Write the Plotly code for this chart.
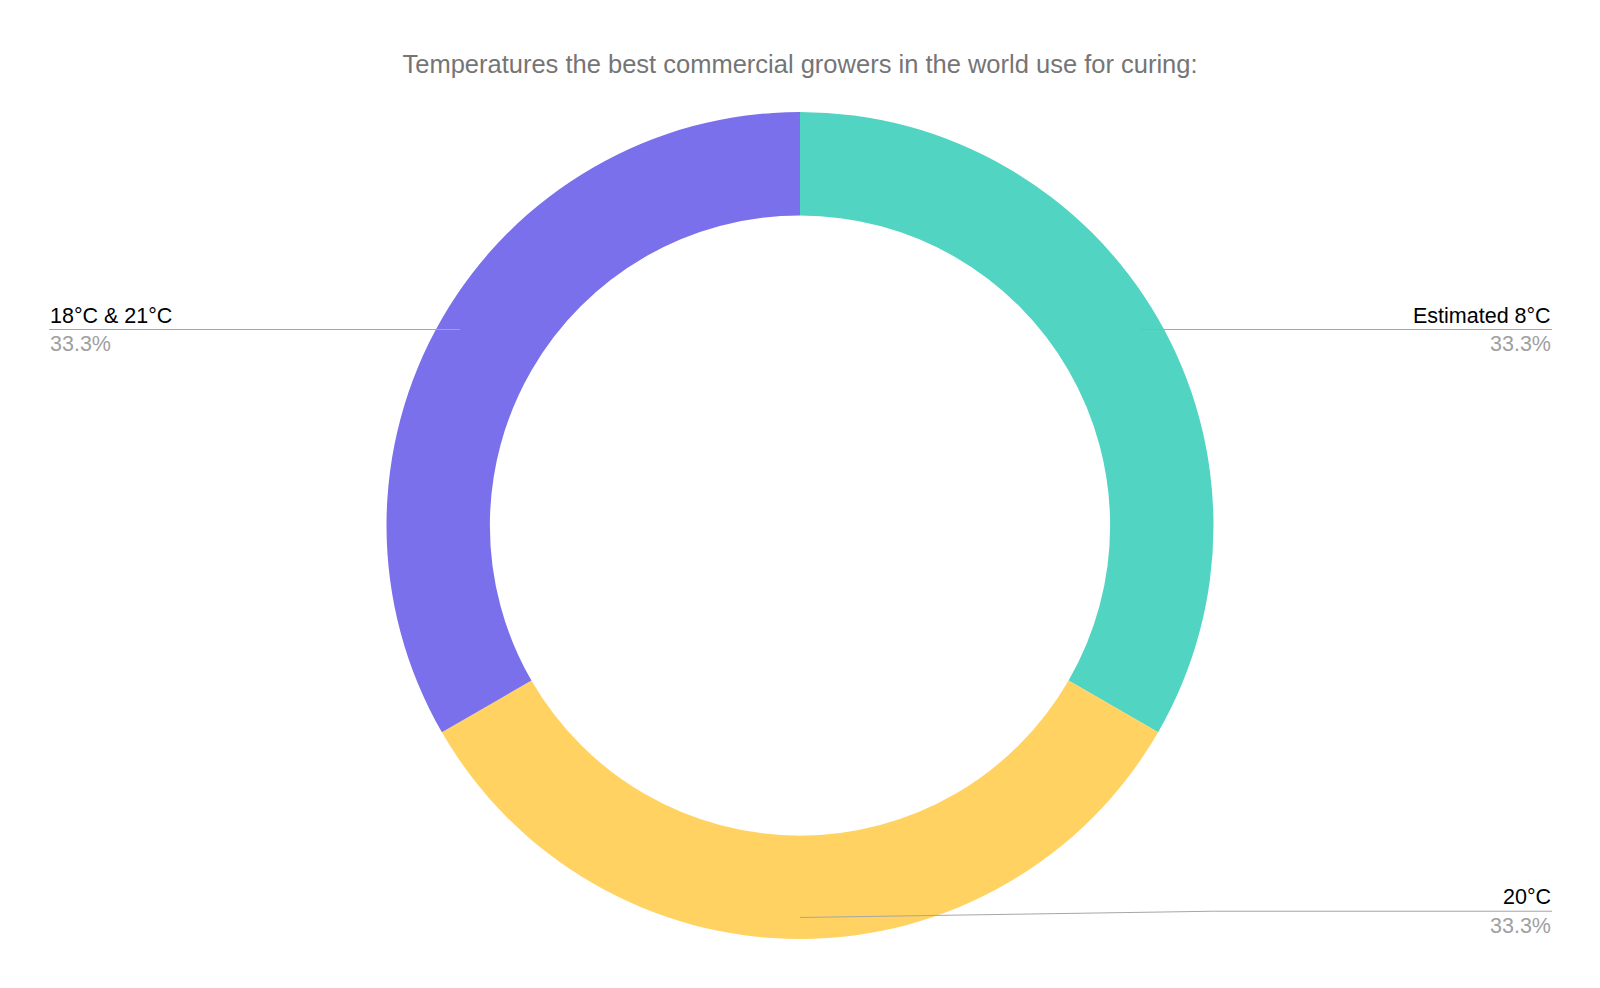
import math
import plotly.graph_objects as go

# ---- data ----
labels = ["Estimated 8°C", "20°C", "18°C & 21°C"]
values = [1, 1, 1]
colors = ["#52d4c2", "#ffd262", "#7b70eb"]
title_text = "Temperatures the best commercial growers in the world use for curing:"

# ---- layout geometry (pixels, figure coords; page body adds an 8px offset) ----
W, H = 1600, 988
OFF = 8
M_T, M_B = 111.5 - OFF, 988 - (939.5 - OFF)
plot_h = H - M_T - M_B
cx_target = 800 - OFF
dom_x = [0.0, 2 * cx_target / W]
cx = W * (dom_x[0] + dom_x[1]) / 2
R = plot_h / 2
cy = M_T + R
hole = 0.75
anchor_r = 0.948 * R
label_y_px = [None, 911.7 - OFF, None]   # y of the label rule per slice (None = level with anchor)
left_x, right_x = 49 - OFF, 1552 - OFF
FONT = "Liberation Sans, Arial, sans-serif"

def px(x):
    return x / W

def py(y):
    return (H - M_B - y) / plot_h

fig = go.Figure(go.Pie(
    labels=labels, values=values, sort=False, direction="clockwise", rotation=0,
    hole=hole, marker=dict(colors=colors, line=dict(width=0)),
    textinfo="none", domain=dict(x=dom_x, y=[0, 1]), showlegend=False,
    hoverinfo="label+percent",
))

total = sum(values)
cum = 0
shapes, annots = [], []
line_col = "#a6a6a6"
for i, (lab, v) in enumerate(zip(labels, values)):
    mid = (cum + v / 2) / total
    cum += v
    th = 2 * math.pi * mid
    ax = cx + anchor_r * math.sin(th)
    ay = cy - anchor_r * math.cos(th)
    ly = label_y_px[i] if label_y_px[i] is not None else ay
    right = ax >= cx - 1
    end_x = right_x if right else left_x
    if abs(ay - ly) > 1:
        kx = ax + (end_x - ax) * 0.55
        path = f"M {px(ax)} {py(ay)} L {px(kx)} {py(ly)} L {px(end_x)} {py(ly)}"
        shapes.append(dict(type="path", xref="paper", yref="paper", path=path,
                           line=dict(color=line_col, width=1)))
    else:
        shapes.append(dict(type="line", xref="paper", yref="paper",
                           x0=px(ax), y0=py(ay), x1=px(end_x), y1=py(ly),
                           line=dict(color=line_col, width=1)))
    pct = f"{100 * v / total:.1f}%"
    anchor = "right" if right else "left"
    annots.append(dict(xref="paper", yref="paper", x=px(end_x), y=py(ly - 14),
                       text=lab, showarrow=False, xanchor=anchor, yanchor="middle",
                       font=dict(size=21.5, color="#000000", family=FONT),
                       borderpad=0))
    annots.append(dict(xref="paper", yref="paper", x=px(end_x), y=py(ly + 14.5),
                       text=pct, showarrow=False, xanchor=anchor, yanchor="middle",
                       font=dict(size=21.5, color="#a0a0a0", family=FONT),
                       borderpad=0))

fig.update_layout(
    width=W, height=H,
    margin=dict(l=0, r=0, t=M_T, b=M_B),
    paper_bgcolor="white", plot_bgcolor="white",
    title=dict(text=title_text, x=cx_target / W, xanchor="center",
               y=1 - (64 - OFF) / H, yanchor="middle",
               font=dict(size=25.5, color="#757575", family=FONT)),
    shapes=shapes, annotations=annots,
    font=dict(family=FONT),
)

fig.write_html("out.html")
